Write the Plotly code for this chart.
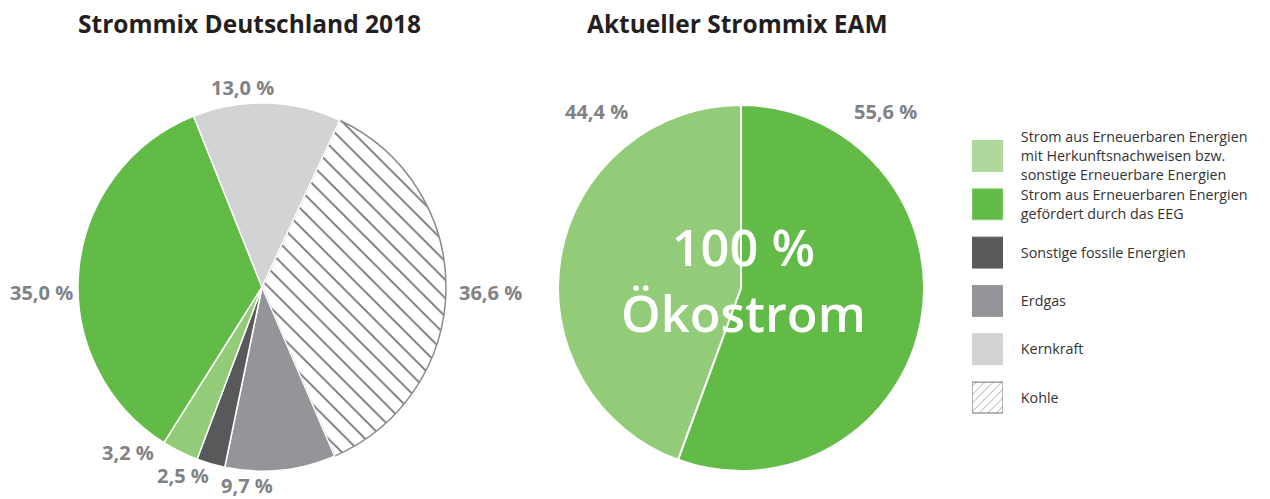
import plotly.graph_objects as go

# ---- data ----
de_labels = ["Kohle", "Erdgas", "Sonstige fossile Energien",
             "Strom aus Erneuerbaren Energien mit Herkunftsnachweisen bzw. sonstige Erneuerbare Energien",
             "Strom aus Erneuerbaren Energien gefördert durch das EEG", "Kernkraft"]
de_values = [36.6, 9.7, 2.5, 3.2, 35.0, 13.0]
de_colors = ["#ffffff", "#939598", "#58595b", "#92cc78", "#62bb46", "#d1d3d4"]
de_patterns = ["\\", "", "", "", "", ""]
de_lines = ["#8a8b8d", "#ffffff", "#ffffff", "#ffffff", "#ffffff", "#ffffff"]

eam_labels = ["Strom aus Erneuerbaren Energien gefördert durch das EEG",
              "Strom aus Erneuerbaren Energien mit Herkunftsnachweisen bzw. sonstige Erneuerbare Energien"]
eam_values = [55.6, 44.4]
eam_colors = ["#62bb46", "#92cc78"]

legend_labels = ["Strom aus Erneuerbaren Energien<br>mit Herkunftsnachweisen bzw.<br>sonstige Erneuerbare Energien",
                 "Strom aus Erneuerbaren Energien<br>gefördert durch das EEG",
                 "Sonstige fossile Energien", "Erdgas", "Kernkraft", "Kohle"]
legend_colors = ["#afd89c", "#62bb46", "#58595b", "#939598", "#d1d3d4", "#ffffff"]
legend_lines = ["#afd89c", "#8fd07a", "#58595b", "#939598", "#d1d3d4", "#6d6e71"]
legend_patterns = ["", "", "", "", "", "/"]

titles = ["Strommix Deutschland 2018", "Aktueller Strommix EAM"]
center_text = "100 %<br>Ökostrom"

# page offset (browser body margin) and figure size
OX, OY = 8, 8
W, H = 1270 - OX, 499 - OY
FONT = "Open Sans"
LABEL_COLOR = "#808285"


def px(x):
    return (x - OX) / W


def py(y):
    return 1 - (y - OY) / H


def fmt(v):
    return f"{v:.1f}".replace(".", ",") + " %"


fig = go.Figure()

fig.add_trace(go.Pie(
    labels=de_labels, values=de_values, sort=False, direction="clockwise", rotation=25,
    domain=dict(x=[px(78), px(446)], y=[py(471), py(103)]),
    marker=dict(colors=de_colors, line=dict(color=de_lines, width=1.5),
                pattern=dict(shape=de_patterns, fgcolor="#6d6e71", bgcolor="#ffffff",
                             size=13, solidity=0.13)),
    textinfo="none", hoverinfo="label+percent", showlegend=False,
))

fig.add_trace(go.Pie(
    labels=eam_labels, values=eam_values, sort=False, direction="clockwise", rotation=0,
    domain=dict(x=[px(558), px(924)], y=[py(471), py(105)]),
    marker=dict(colors=eam_colors, line=dict(color="#ffffff", width=2)),
    textinfo="none", hoverinfo="label+percent", showlegend=False,
))

# legend drawn as a small bar chart
fig.add_trace(go.Bar(
    x=[1] * len(legend_labels), y=legend_labels, orientation="h", width=0.64,
    marker=dict(color=legend_colors, line=dict(color=legend_lines, width=1),
                pattern=dict(shape=legend_patterns, fgcolor="#6d6e71", bgcolor="#ffffff",
                             size=6, solidity=0.15)),
    hoverinfo="skip", showlegend=False,
))

fig.update_layout(
    width=W, height=H, margin=dict(l=0, r=0, t=0, b=0, autoexpand=False),
    paper_bgcolor="white", plot_bgcolor="rgba(0,0,0,0)",
    font=dict(family=FONT, color="#333333"),
    xaxis=dict(domain=[px(972), px(1003)], range=[0, 1], visible=False, fixedrange=True,
               automargin=False),
    yaxis=dict(domain=[py(421.7), py(131.8)], type="category", categoryorder="array",
               categoryarray=legend_labels, range=[len(legend_labels) - 0.5, -0.5],
               side="right", anchor="x", showgrid=False, zeroline=False, showline=False,
               ticks="outside", ticklen=14, tickcolor="rgba(0,0,0,0)", automargin=False,
               tickfont=dict(family=FONT, size=14.3, color="#333333"), fixedrange=True),
)

# titles
for t, cx in zip(titles, [249, 737]):
    fig.add_annotation(text=f"<b>{t}</b>", x=px(cx), y=py(24), xref="paper", yref="paper",
                       xanchor="center", yanchor="middle", showarrow=False, borderpad=0,
                       font=dict(family=FONT, size=24.5, color="#231f20"))

# percentage labels of the left pie
de_label_pos = [(490, 292), (247, 485), (183, 475), (128, 452), (41, 292), (242, 87)]
for v, (lx, ly) in zip(de_values, de_label_pos):
    fig.add_annotation(text=f"<b>{fmt(v)}</b>", x=px(lx), y=py(ly), xref="paper", yref="paper",
                       xanchor="center", yanchor="middle", showarrow=False, borderpad=0,
                       font=dict(family=FONT, size=20, color=LABEL_COLOR))

# percentage labels of the right pie
eam_label_pos = [(885, 111), (596, 111)]
for v, (lx, ly) in zip(eam_values, eam_label_pos):
    fig.add_annotation(text=f"<b>{fmt(v)}</b>", x=px(lx), y=py(ly), xref="paper", yref="paper",
                       xanchor="center", yanchor="middle", showarrow=False, borderpad=0,
                       font=dict(family=FONT, size=20, color=LABEL_COLOR))

fig.add_annotation(text=center_text, x=px(743), y=py(279), xref="paper", yref="paper",
                   xanchor="center", yanchor="middle", showarrow=False,
                   font=dict(family=FONT, size=50.5, color="#ffffff", weight=600))

fig.write_html("out.html")
